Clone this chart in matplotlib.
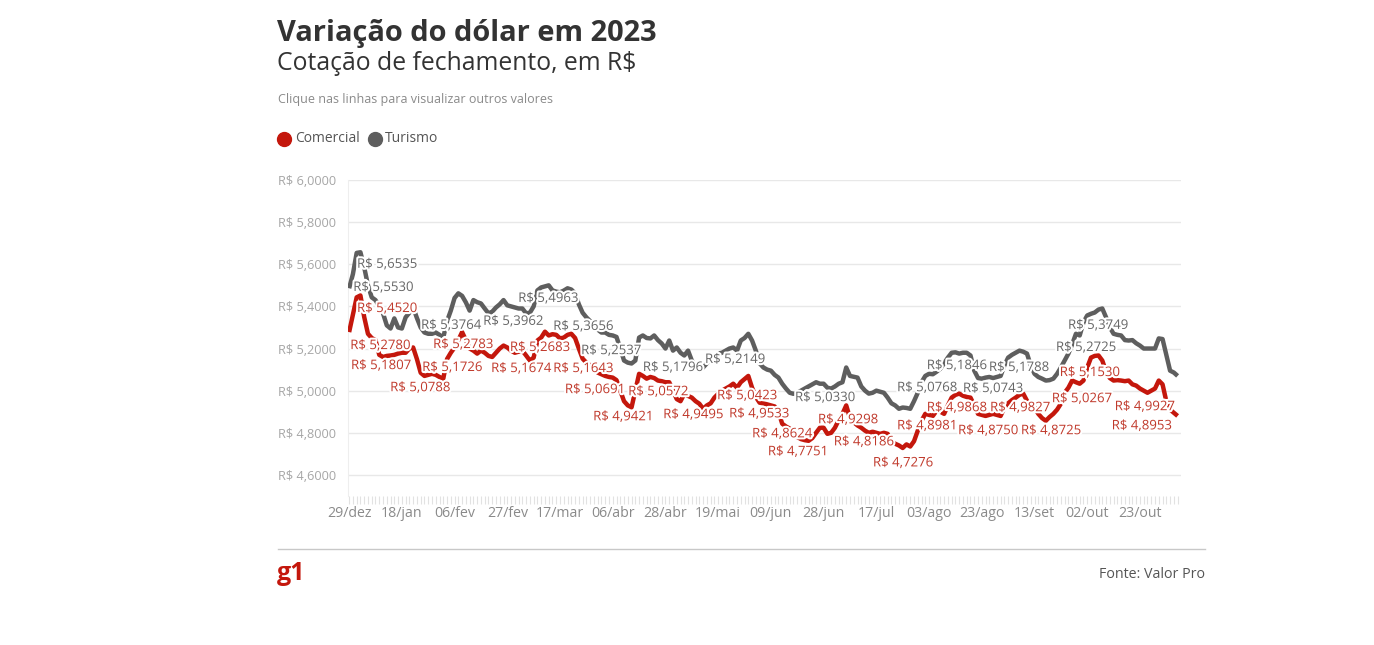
import matplotlib
matplotlib.use("Agg")
import matplotlib.pyplot as plt
import matplotlib.patheffects as pe
from matplotlib.lines import Line2D
import numpy as np

plt.rcParams['font.family'] = ['Open Sans', 'DejaVu Sans']

# ---------------- data ----------------
tick_labels = ['29/dez', '18/jan', '06/fev', '27/fev', '17/mar', '06/abr', '28/abr', '19/mai',
               '09/jun', '28/jun', '17/jul', '03/ago', '23/ago', '13/set', '02/out', '23/out']
tick_step = 14

comercial = [
    5.278, 5.360, 5.443, 5.452, 5.350, 5.270, 5.250, 5.240, 5.170, 5.160,
    5.165, 5.167, 5.170, 5.176, 5.180, 5.180, 5.200, 5.205, 5.150, 5.085,
    5.070, 5.075, 5.080, 5.075, 5.065, 5.057, 5.150, 5.180, 5.205, 5.240,
    5.278, 5.240, 5.200, 5.190, 5.176, 5.190, 5.180, 5.165, 5.160, 5.180,
    5.200, 5.214, 5.205, 5.190, 5.180, 5.185, 5.190, 5.167, 5.143, 5.157,
    5.238, 5.252, 5.280, 5.262, 5.268, 5.265, 5.248, 5.252, 5.265, 5.270,
    5.250, 5.200, 5.152, 5.133, 5.120, 5.100, 5.086, 5.078, 5.070, 5.065,
    5.062, 5.050, 5.000, 4.950, 4.930, 4.921, 5.000, 5.080, 5.070, 5.057,
    5.065, 5.060, 5.048, 5.045, 5.040, 5.040, 5.000, 4.960, 4.950, 4.985,
    4.975, 4.967, 4.950, 4.938, 4.914, 4.930, 4.940, 4.967, 4.985, 5.000,
    5.010, 5.020, 5.033, 5.014, 5.040, 5.055, 5.070, 5.014, 4.970, 4.943,
    4.940, 4.935, 4.930, 4.925, 4.900, 4.843, 4.830, 4.820, 4.800, 4.780,
    4.770, 4.765, 4.762, 4.775, 4.800, 4.824, 4.824, 4.795, 4.800, 4.824,
    4.860, 4.890, 4.930, 4.870, 4.850, 4.835, 4.824, 4.810, 4.800, 4.805,
    4.800, 4.795, 4.800, 4.795, 4.760, 4.748, 4.740, 4.728, 4.745, 4.735,
    4.760, 4.810, 4.857, 4.890, 4.885, 4.880, 4.905, 4.900, 4.890, 4.930,
    4.967, 4.980, 4.986, 4.976, 4.970, 4.967, 4.930, 4.890, 4.885, 4.880,
    4.885, 4.890, 4.885, 4.880, 4.920, 4.940, 4.955, 4.967, 4.980, 4.986,
    4.952, 4.930, 4.920, 4.890, 4.870, 4.857, 4.875, 4.890, 4.910, 4.938,
    4.990, 5.014, 5.048, 5.040, 5.033, 5.048, 5.110, 5.157, 5.165, 5.167,
    5.143, 5.090, 5.060, 5.048, 5.050, 5.048, 5.045, 5.048, 5.030, 5.024,
    5.010, 5.000, 4.990, 5.000, 5.010, 5.048, 5.030, 4.950, 4.910, 4.895,
    4.880,
]

turismo = [
    5.486, 5.553, 5.654, 5.657, 5.586, 5.500, 5.443, 5.430, 5.400, 5.367,
    5.310, 5.295, 5.343, 5.300, 5.295, 5.348, 5.370, 5.395, 5.345, 5.300,
    5.276, 5.270, 5.270, 5.276, 5.265, 5.252, 5.330, 5.380, 5.440, 5.462,
    5.450, 5.419, 5.380, 5.430, 5.420, 5.414, 5.390, 5.367, 5.375, 5.395,
    5.410, 5.430, 5.405, 5.400, 5.395, 5.390, 5.390, 5.367, 5.370, 5.400,
    5.476, 5.490, 5.495, 5.500, 5.476, 5.470, 5.467, 5.475, 5.486, 5.480,
    5.462, 5.410, 5.370, 5.348, 5.330, 5.310, 5.290, 5.276, 5.276, 5.265,
    5.262, 5.255, 5.200, 5.143, 5.133, 5.129, 5.143, 5.252, 5.262, 5.250,
    5.248, 5.262, 5.240, 5.224, 5.200, 5.238, 5.190, 5.205, 5.180, 5.167,
    5.190, 5.143, 5.120, 5.095, 5.110, 5.130, 5.150, 5.160, 5.176, 5.180,
    5.190, 5.200, 5.205, 5.190, 5.238, 5.250, 5.270, 5.238, 5.190, 5.130,
    5.110, 5.100, 5.095, 5.075, 5.062, 5.033, 5.010, 4.990, 4.985, 4.990,
    5.000, 5.010, 5.020, 5.030, 5.040, 5.033, 5.033, 5.014, 5.010, 5.020,
    5.033, 5.040, 5.110, 5.070, 5.066, 5.062, 5.020, 5.000, 4.986, 4.990,
    5.000, 4.995, 4.990, 4.967, 4.940, 4.930, 4.914, 4.920, 4.918, 4.914,
    4.950, 4.990, 5.040, 5.070, 5.080, 5.078, 5.090, 5.105, 5.130, 5.157,
    5.180, 5.182, 5.176, 5.180, 5.180, 5.167, 5.095, 5.060, 5.057, 5.062,
    5.065, 5.060, 5.065, 5.070, 5.120, 5.157, 5.170, 5.180, 5.190, 5.185,
    5.176, 5.120, 5.080, 5.065, 5.057, 5.048, 5.050, 5.057, 5.080, 5.110,
    5.143, 5.176, 5.220, 5.270, 5.262, 5.324, 5.357, 5.365, 5.371, 5.385,
    5.390, 5.348, 5.300, 5.270, 5.265, 5.262, 5.240, 5.238, 5.240, 5.225,
    5.214, 5.200, 5.200, 5.200, 5.200, 5.248, 5.245, 5.170, 5.095, 5.086,
    5.070,
]

y_ticks = [4.6, 4.8, 5.0, 5.2, 5.4, 5.6, 5.8, 6.0]

# value labels: (text, x-index of text left edge, value at text centre)
labels_turismo = [
    ("R$ 5,6535", 2.1, 5.600), ("R$ 5,5530", 1.1, 5.490), ("R$ 5,3764", 19.1, 5.310),
    ("R$ 5,3962", 35.6, 5.329), ("R$ 5,4963", 44.9, 5.438), ("R$ 5,3656", 54.2, 5.305),
    ("R$ 5,2537", 61.6, 5.190), ("R$ 5,1796", 78.0, 5.110), ("R$ 5,2149", 94.5, 5.148),
    ("R$ 5,0330", 118.4, 4.967), ("R$ 5,0768", 145.5, 5.014), ("R$ 5,1846", 153.4, 5.119),
    ("R$ 5,0743", 163.0, 5.010), ("R$ 5,1788", 169.9, 5.110), ("R$ 5,3749", 190.9, 5.310),
    ("R$ 5,2725", 187.7, 5.205),
]
labels_comercial = [
    ("R$ 5,4520", 2.1, 5.390), ("R$ 5,2780", 0.3, 5.214), ("R$ 5,1807", 0.5, 5.119),
    ("R$ 5,0788", 10.9, 5.014), ("R$ 5,1726", 19.4, 5.110), ("R$ 5,2783", 22.3, 5.219),
    ("R$ 5,1674", 37.7, 5.105), ("R$ 5,2683", 42.7, 5.205), ("R$ 5,1643", 54.2, 5.105),
    ("R$ 5,0691", 57.3, 5.005), ("R$ 4,9421", 64.8, 4.876), ("R$ 5,0572", 74.1, 4.995),
    ("R$ 4,9495", 83.4, 4.886), ("R$ 5,0423", 97.7, 4.976), ("R$ 4,9533", 100.9, 4.890),
    ("R$ 4,8624", 107.0, 4.795), ("R$ 4,7751", 111.2, 4.710), ("R$ 4,9298", 124.5, 4.862),
    ("R$ 4,8186", 128.7, 4.757), ("R$ 4,7276", 139.1, 4.657), ("R$ 4,8981", 145.5, 4.833),
    ("R$ 4,9868", 153.4, 4.919), ("R$ 4,8750", 161.7, 4.810), ("R$ 4,9827", 170.2, 4.919),
    ("R$ 4,8725", 178.4, 4.810), ("R$ 5,0267", 186.6, 4.962), ("R$ 5,1530", 188.7, 5.086),
    ("R$ 4,9927", 203.3, 4.924), ("R$ 4,8953", 202.5, 4.833),
]

RED = '#c4170c'
GRAY = '#5e5e5e'

W, H = 1374, 645
fig = plt.figure(figsize=(W / 100, H / 100), dpi=100)
fig.patch.set_facecolor('white')


def fx(x):
    return x / W


def fy(y):
    return 1 - y / H


ax = fig.add_axes([fx(348), fy(496), fx(1181) - fx(348), fy(180) - fy(496)])
x = np.arange(len(comercial))
ax.plot(x, turismo, color=GRAY, lw=3.2, solid_capstyle='butt', solid_joinstyle='round', zorder=3)
ax.plot(x, comercial, color=RED, lw=3.2, solid_capstyle='butt', solid_joinstyle='round', zorder=3)

ax.set_xlim(-0.3, len(comercial) - 0.1)
ax.set_ylim(4.5, 6.0)
ax.set_yticks(y_ticks)
ax.set_yticklabels(['R$ ' + f'{v:.4f}'.replace('.', ',') for v in y_ticks],
                   color='#a6a6a6', fontsize=9.2)
ax.set_xticks(np.arange(0, len(comercial), tick_step)[:len(tick_labels)])
ax.set_xticklabels(tick_labels, color='#8a8a8a', fontsize=10.2)
ax.set_xticks(x, minor=True)
ax.tick_params(axis='y', length=0, pad=8.6)
ax.tick_params(axis='x', which='both', length=6, width=0.8, color='#e2e2e2', pad=1.5)
ax.grid(axis='y', color='#e8e8e8', lw=1)
ax.set_axisbelow(True)
for s in ['top', 'right', 'bottom']:
    ax.spines[s].set_visible(False)
ax.spines['left'].set_color('#eeeeee')

halo = [pe.withStroke(linewidth=3, foreground='white')]
for txt, xi, yv in labels_turismo:
    ax.text(xi, yv, txt, color='#666666', fontsize=9.5, ha='left', va='center',
            path_effects=halo, zorder=5)
for txt, xi, yv in labels_comercial:
    ax.text(xi, yv, txt, color='#c0392b', fontsize=9.5, ha='left', va='center',
            path_effects=halo, zorder=5)

# header
fig.text(fx(277), fy(33), 'Variação do dólar em 2023', fontsize=20.9, fontweight='bold',
         color='#333333', ha='left', va='center')
fig.text(fx(277), fy(64), 'Cotação de fechamento, em R$', fontsize=17.8, color='#333333',
         ha='left', va='center')
fig.text(fx(278), fy(99), 'Clique nas linhas para visualizar outros valores', fontsize=9.0,
         color='#8a8a8a', ha='left', va='center')

# legend
fig.add_artist(Line2D([fx(284)], [fy(139)], marker='o', markersize=10, color=RED,
                      transform=fig.transFigure))
fig.text(fx(295), fy(139), 'Comercial', fontsize=10, color='#555555', ha='left', va='center')
fig.add_artist(Line2D([fx(375)], [fy(139)], marker='o', markersize=10, color=GRAY,
                      transform=fig.transFigure))
fig.text(fx(385), fy(139), 'Turismo', fontsize=10, color='#555555', ha='left', va='center')

# footer
fig.add_artist(Line2D([fx(278), fx(1205)], [fy(549), fy(549)], color='#c8c8c8', lw=1,
                      transform=fig.transFigure))
fig.text(fx(277), fy(573), 'g1', fontsize=18, fontweight='bold', color=RED,
         ha='left', va='center')
fig.text(fx(1205), fy(575), 'Fonte: Valor Pro', fontsize=10.3, color='#555555',
         ha='right', va='center')

fig.savefig('out.png', dpi=100, facecolor='white')
